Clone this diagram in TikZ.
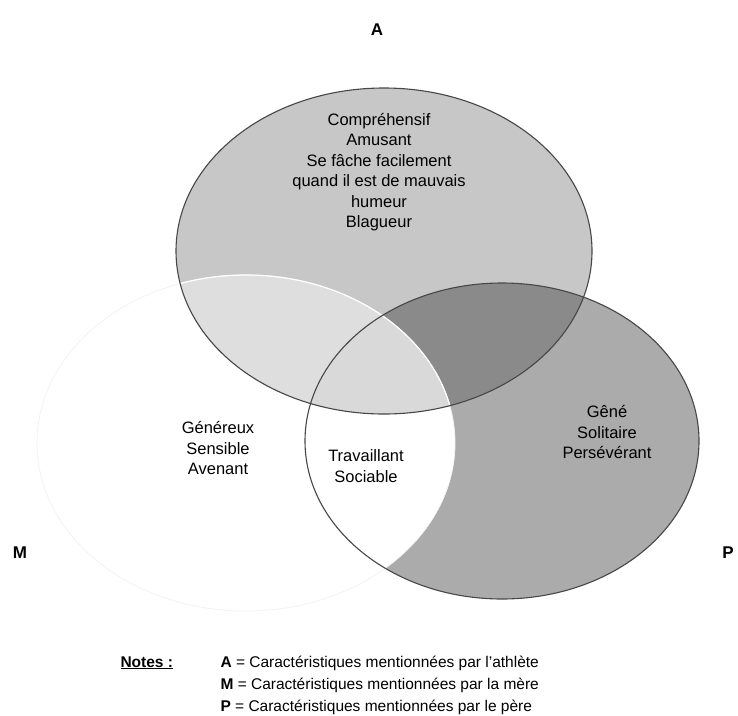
\documentclass[tikz,border=0pt]{standalone}
\usepackage{fontspec}
\setmainfont{Liberation Sans}
\begin{document}
\begin{tikzpicture}[x=1pt,y=-1pt,
  setlabel/.style={font=\fontsize{17}{17}\selectfont\bfseries},
  item/.style={align=center,font=\fontsize{16.5}{20.5}\selectfont},
  outline/.style={draw=black!72,line width=1.1pt},
  noteline/.style={anchor=base west,font=\fontsize{15.5}{18}\selectfont}]
\useasboundingbox (0,0) rectangle (738,715);
% the three sets
\def\setA{(384,251) ellipse [x radius=208, y radius=163]}
\def\setP{(502,441) ellipse [x radius=197, y radius=158]}
\def\setM{(246,443) ellipse [x radius=209, y radius=168]}
\definecolor{aonly}{gray}{0.78}
\definecolor{ponly}{gray}{0.67}
\definecolor{apcol}{gray}{0.54}
\definecolor{amcol}{gray}{0.87}
\definecolor{ampcol}{gray}{0.85}
% region fills
\fill[aonly] \setA;
\fill[ponly] \setP;
\begin{scope}
  \clip \setP;
  \fill[white] \setM;
\end{scope}
\begin{scope}
  \clip \setA;
  \fill[apcol] \setP;
  \fill[amcol] \setM;
  \clip \setP;
  \fill[ampcol] \setM;
\end{scope}
% outlines
\draw[black!5,line width=0.8pt] \setM;
\begin{scope}
  \clip \setA;
  \draw[white,line width=1.2pt] \setM;
\end{scope}
\draw[outline] \setA;
\draw[outline] \setP;
% set letters
\node[setlabel] (labA) at (377,30) {A};
\node[setlabel] (labM) at (20,553) {M};
\node[setlabel] (labP) at (728,553) {P};
% characteristics
\node[item] (txtA) at (379,172) {Compréhensif\\Amusant\\Se fâche facilement\\quand il est de mauvais\\humeur\\Blagueur};
\node[item] (txtM) at (218,448) {Généreux\\Sensible\\Avenant};
\node[item] (txtMP) at (366,466) {Travaillant\\Sociable};
\node[item] (txtP) at (607,432) {Gêné\\Solitaire\\Persévérant};
% notes
\node[noteline,font=\fontsize{15.5}{18}\selectfont\bfseries] (notes) at (117,667) {\underline{Notes :}};
\node[noteline] (noteA) at (217,667) {\textbf{A} = Caractéristiques mentionnées par l'athlète};
\node[noteline] (noteM) at (217,689) {\textbf{M} = Caractéristiques mentionnées par la mère};
\node[noteline] (noteP) at (217,711) {\textbf{P} = Caractéristiques mentionnées par le père};
\end{tikzpicture}
\end{document}
